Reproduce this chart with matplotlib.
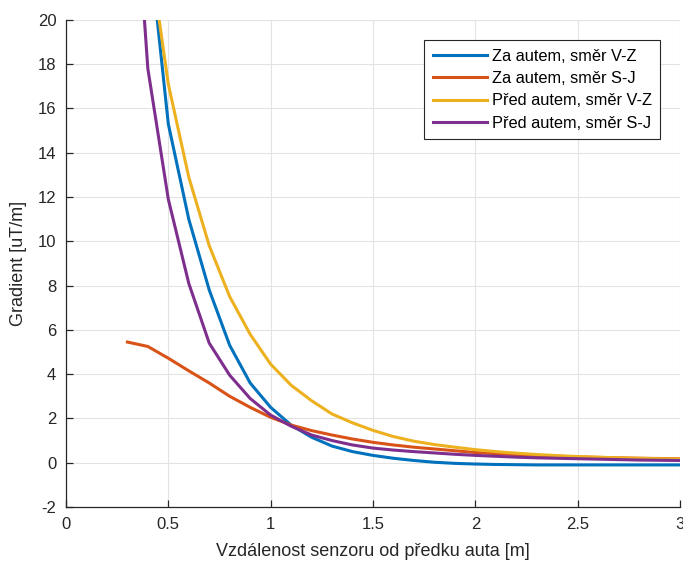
import matplotlib.pyplot as plt

plt.rcParams['font.family'] = ['Liberation Sans', 'DejaVu Sans']
plt.rcParams['axes.unicode_minus'] = False

# vzdalenost senzoru od predku auta [m]
x = [0.3, 0.4, 0.5, 0.6, 0.7, 0.8, 0.9, 1.0, 1.1, 1.2, 1.3, 1.4, 1.5, 1.6,
     1.7, 1.8, 1.9, 2.0, 2.1, 2.2, 2.3, 2.4, 2.5, 2.6, 2.7, 2.8, 2.9, 3.0]

za_vz = [40.0, 24.0, 15.3, 11.0, 7.8, 5.3, 3.6, 2.5, 1.7, 1.15, 0.75, 0.5, 0.33, 0.2,
         0.1, 0.02, -0.03, -0.06, -0.08, -0.09, -0.1, -0.1, -0.1, -0.1, -0.1, -0.1, -0.1, -0.1]
za_sj = [5.45, 5.25, 4.72, 4.15, 3.6, 3.0, 2.5, 2.05, 1.7, 1.45, 1.25, 1.07, 0.92, 0.8,
         0.7, 0.62, 0.54, 0.46, 0.41, 0.36, 0.32, 0.29, 0.26, 0.24, 0.22, 0.2, 0.19, 0.18]
pred_vz = [45.0, 23.6, 17.1, 12.9, 9.8, 7.5, 5.8, 4.45, 3.5, 2.8, 2.2, 1.8, 1.46, 1.18,
           0.97, 0.82, 0.7, 0.59, 0.5, 0.43, 0.37, 0.32, 0.28, 0.25, 0.22, 0.2, 0.18, 0.17]
pred_sj = [31.0, 17.8, 11.9, 8.1, 5.4, 3.95, 2.9, 2.15, 1.65, 1.25, 1.0, 0.8, 0.66, 0.57,
           0.5, 0.44, 0.38, 0.33, 0.29, 0.25, 0.22, 0.2, 0.18, 0.16, 0.14, 0.12, 0.11, 0.1]

labels = ['Za autem, směr V-Z', 'Za autem, směr S-J',
          'Před autem, směr V-Z', 'Před autem, směr S-J']
colors = ['#0072BD', '#D95319', '#EDB120', '#7E2F8E']

fig = plt.figure(figsize=(6.83, 5.65), dpi=100)
ax = fig.add_axes([0.0966, 0.1027, 0.899, 0.862])

for y, lab, c in zip([za_vz, za_sj, pred_vz, pred_sj], labels, colors):
    ax.plot(x, y, color=c, lw=2.2, label=lab)

ax.set_xlim(0, 3)
ax.set_ylim(-2, 20)
ax.set_xticks([0, 0.5, 1, 1.5, 2, 2.5, 3])
ax.set_xticklabels(['0', '0.5', '1', '1.5', '2', '2.5', '3'])
ax.set_yticks(range(-2, 21, 2))
ax.grid(True, color='#e3e3e3', lw=0.8)
ax.set_axisbelow(True)

for s in ['top', 'right']:
    ax.spines[s].set_visible(False)
for s in ['left', 'bottom']:
    ax.spines[s].set_color('#262626')
    ax.spines[s].set_linewidth(0.9)
ax.tick_params(direction='in', length=5, width=0.9, color='#262626',
               labelsize=12, labelcolor='#262626', pad=7)

ax.set_xlabel('Vzdálenost senzoru od předku auta [m]', fontsize=13, color='#262626', labelpad=8)
ax.set_ylabel('Gradient [uT/m]', fontsize=13, color='#262626', labelpad=8)

leg = ax.legend(loc='upper right', bbox_to_anchor=(0.967, 0.958), fontsize=11.8,
                handlelength=3.3, handletextpad=0.3, labelspacing=0.45,
                borderpad=0.5, borderaxespad=0, fancybox=False, framealpha=1)
leg.get_frame().set_edgecolor('#262626')
leg.get_frame().set_linewidth(0.8)

fig.savefig('out.png', dpi=100)
